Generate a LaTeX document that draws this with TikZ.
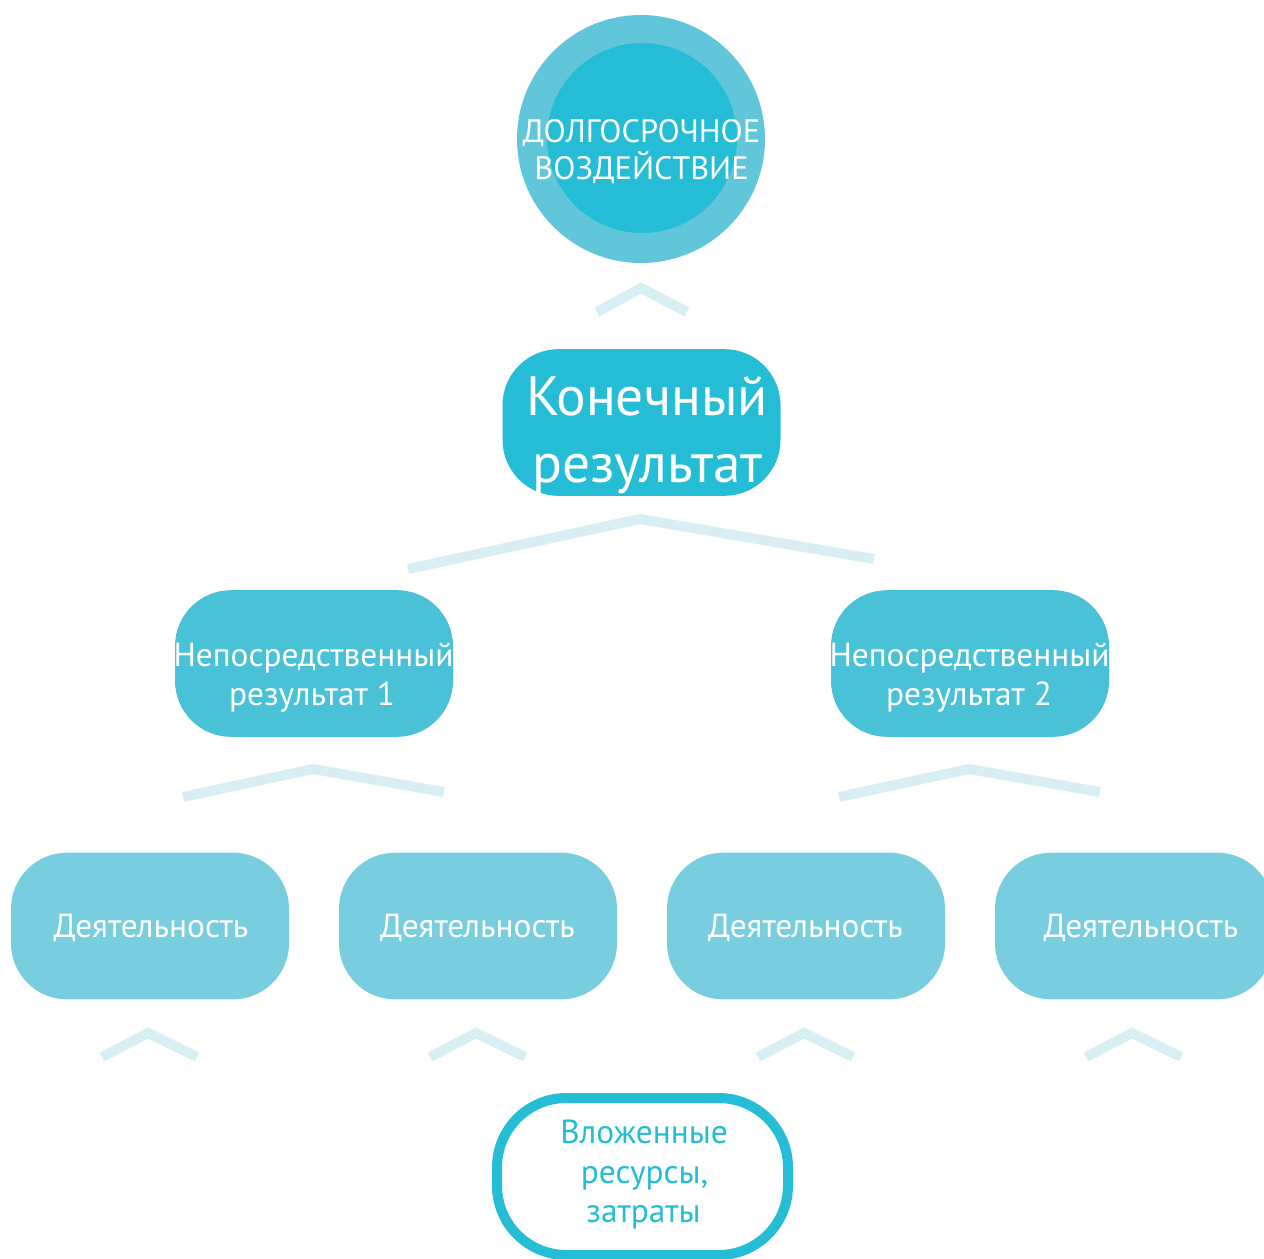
\documentclass[tikz,border=0pt]{standalone}
\usepackage{fontspec}
\setmainfont{PT Sans}
\definecolor{deep}{HTML}{25BDD5}
\definecolor{ring}{HTML}{62C6DA}
\definecolor{mid}{HTML}{49C1D7}
\definecolor{pale}{HTML}{78CDDF}
\definecolor{chevcol}{HTML}{D7EFF4}
\begin{document}
\begin{tikzpicture}[x=0.75pt,y=-0.75pt,
  box/.style={rounded corners=42pt, minimum width=208.5pt, minimum height=110pt, inner sep=0pt},
  lbl/.style={text=white, anchor=base, inner sep=0pt},
  chev/.style={draw=chevcol, line width=7.5pt, line cap=butt, line join=miter},
  fbig/.style={font=\fontsize{41.5}{41.5}\selectfont},
  fcap/.style={font=\fontsize{24.3}{24.3}\selectfont},
  fmid/.style={font=\fontsize{25}{25}\selectfont},
]
\useasboundingbox (0,0) rectangle (1264,1259);
\clip (0,0) rectangle (1264,1259);

% long-term impact: ring and core
\node[circle, fill=ring, minimum size=186pt, inner sep=0pt] (imp) at (641,139) {};
\node[circle, fill=deep, minimum size=142.5pt, inner sep=0pt] (impcore) at (642,138) {};
\node[lbl, fcap] (imp1) at (641.5,143) {ДОЛГОСРОЧНОЕ};
\node[lbl, fcap] (imp2) at (641.5,180) {ВОЗДЕЙСТВИЕ};

% final result
\node[box, fill=deep] (fin) at (641.5,422.5) {};
\node[lbl, fbig] (fin1) at (647,415) {Конечный};
\node[lbl, fbig] (fin2) at (647.5,482) {результат};

% intermediate results
\node[box, fill=mid] (res1) at (314,663.5) {};
\node[lbl, fmid] (res1a) at (313.5,666) {Непосредственный};
\node[lbl, fmid] (res1b) at (312,705) {результат 1};
\node[box, fill=mid] (res2) at (970,663.5) {};
\node[lbl, fmid] (res2a) at (969.5,666) {Непосредственный};
\node[lbl, fmid] (res2b) at (969,705) {результат 2};

% activities
\node[box, fill=pale] (act1) at (150,926) {};
\node[box, fill=pale] (act2) at (478,926) {};
\node[box, fill=pale] (act3) at (806,926) {};
\node[box, fill=pale] (act4) at (1134,926) {};
\node[lbl, fmid] (act1t) at (151,937) {Деятельность};
\node[lbl, fmid] (act2t) at (477.5,937) {Деятельность};
\node[lbl, fmid] (act3t) at (805.5,937) {Деятельность};
\node[lbl, fmid] (act4t) at (1141,937) {Деятельность};

% inputs
\node[draw=deep, line width=7.5pt, rounded corners=52pt, minimum width=218.25pt,
      minimum height=117.75pt, inner sep=0pt] (inp) at (642.5,1176.5) {};
\node[lbl, fmid, text=deep] (inp1) at (644,1143) {Вложенные};
\node[lbl, fmid, text=deep] (inp2) at (644.5,1183) {ресурсы,};
\node[lbl, fmid, text=deep] (inp3) at (643.5,1222) {затраты};

% upward chevrons
\draw[chev] (597,312) -- (641,288) -- (687,312);
\draw[chev] (408,569) -- (640,519) -- (874,559);
\draw[chev] (183,797) -- (313,769) -- (444,792);
\draw[chev] (839,797) -- (969,769) -- (1100,792);
\foreach \cx in {148,476,804,1132}
  \draw[chev] (\cx-46,1057) -- (\cx,1033) -- (\cx+49,1057);
\end{tikzpicture}
\end{document}
